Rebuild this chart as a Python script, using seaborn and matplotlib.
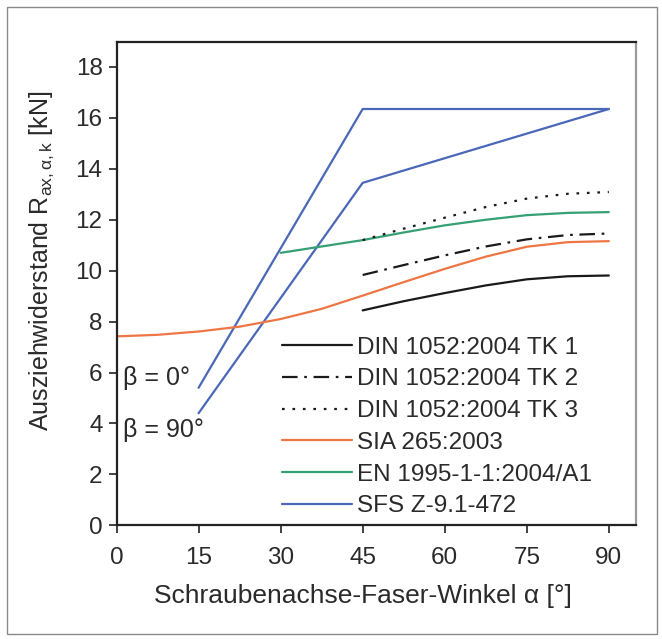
import matplotlib
matplotlib.use("Agg")
import matplotlib.pyplot as plt
import seaborn as sns
import pandas as pd
from matplotlib.patches import Rectangle

# ---- data ----
angles_din = [45, 52.5, 60, 67.5, 75, 82.5, 90]
din_tk1 = [8.44, 8.80, 9.12, 9.42, 9.66, 9.78, 9.81]
din_tk2 = [9.83, 10.22, 10.60, 10.95, 11.23, 11.40, 11.46]
din_tk3 = [11.20, 11.65, 12.08, 12.50, 12.83, 13.02, 13.09]

angles_sia = [0, 7.5, 15, 22.5, 30, 37.5, 45, 52.5, 60, 67.5, 75, 82.5, 90]
sia = [7.42, 7.48, 7.61, 7.80, 8.10, 8.50, 9.02, 9.55, 10.07, 10.55, 10.94, 11.12, 11.16]

angles_en = [30, 37.5, 45, 52.5, 60, 67.5, 75, 82.5, 90]
en = [10.70, 10.95, 11.20, 11.50, 11.78, 12.00, 12.18, 12.27, 12.30]

angles_sfs = [15, 45, 90]
sfs_beta0 = [5.40, 16.35, 16.35]
sfs_beta90 = [4.40, 13.45, 16.35]

labels = ["DIN 1052:2004 TK 1", "DIN 1052:2004 TK 2", "DIN 1052:2004 TK 3",
          "SIA 265:2003", "EN 1995-1-1:2004/A1", "SFS Z-9.1-472"]
x_ticks = [0, 15, 30, 45, 60, 75, 90]
y_ticks = [0, 2, 4, 6, 8, 10, 12, 14, 16, 18]

# ---- style ----
sns.set_theme(style="ticks")
plt.rcParams["font.family"] = ["Liberation Sans", "DejaVu Sans"]
plt.rcParams["mathtext.fontset"] = "custom"
plt.rcParams["mathtext.rm"] = "Liberation Sans"
plt.rcParams["mathtext.it"] = "Liberation Sans:italic"
text_col = "#2a2a2a"

c_black = "#1a1a1a"
c_orange = "#ee7644"
c_green = "#35a073"
c_blue = "#4a67b8"
lw = 1.6

fig = plt.figure(figsize=(6.62, 6.39), dpi=100)
ax = fig.add_axes([0.176, 0.178, 0.785, 0.757])

def draw(x, y, **kw):
    df = pd.DataFrame({"x": x, "y": y})
    sns.lineplot(data=df, x="x", y="y", ax=ax, sort=False, lw=lw, **kw)

draw(angles_sfs, sfs_beta0, color=c_blue, label=labels[5])
draw(angles_sfs, sfs_beta90, color=c_blue)
draw(angles_sia, sia, color=c_orange, label=labels[3])
draw(angles_en, en, color=c_green, label=labels[4])
draw(angles_din, din_tk1, color=c_black, label=labels[0])
draw(angles_din, din_tk2, color=c_black, linestyle=(0, (7, 3, 1.2, 3)), label=labels[1])
draw(angles_din, din_tk3, color=c_black, linestyle=(0, (1.2, 3.5)), label=labels[2])

ax.set_xlim(0, 95)
ax.set_ylim(0, 19)
ax.set_xticks(x_ticks)
ax.set_yticks(y_ticks)
ax.tick_params(axis="both", direction="out", length=6, width=1.2, colors="#222222",
               labelcolor=text_col, labelsize=17.5)
ax.tick_params(axis="x", pad=10)
ax.tick_params(axis="y", pad=4)
for s in ["left", "bottom", "top"]:
    ax.spines[s].set_color("#222222")
    ax.spines[s].set_linewidth(1.6)
ax.spines["right"].set_color("#9a9a9a")
ax.spines["right"].set_linewidth(1.6)

ax.set_xlabel("Schraubenachse-Faser-Winkel α [°]", fontsize=19, color=text_col)
ax.set_ylabel(r"Ausziehwiderstand $\mathregular{R_{ax,\alpha,k}}$ [kN]", fontsize=18, color=text_col)
ax.xaxis.set_label_coords(45 / 95, -0.122)
ax.yaxis.label.set_va("center")
ax.yaxis.set_label_coords((42 - 116.5) / 519.5, (525 - 261) / 483.5)

ax.text(1.2, 5.78, "β = 0°", fontsize=18, color=text_col, va="center", ha="left")
ax.text(1.2, 3.73, "β = 90°", fontsize=18, color=text_col, va="center", ha="left")

handles, labs = ax.get_legend_handles_labels()
order = [labs.index(l) for l in labels]
leg = ax.legend([handles[i] for i in order], [labs[i] for i in order],
                loc="upper left", bbox_to_anchor=(0.318, 0.39), frameon=False,
                fontsize=17.5, handlelength=2.9, handletextpad=0.2,
                labelspacing=0.4, borderpad=0, borderaxespad=0)
for t in leg.get_texts():
    t.set_color(text_col)

fig.patches.append(Rectangle((7 / 662, 1 - 634 / 639), 650 / 662, 627 / 639,
                             transform=fig.transFigure, fill=False,
                             edgecolor="#8a8a8a", lw=1.0))

fig.savefig("out.png", dpi=100)
